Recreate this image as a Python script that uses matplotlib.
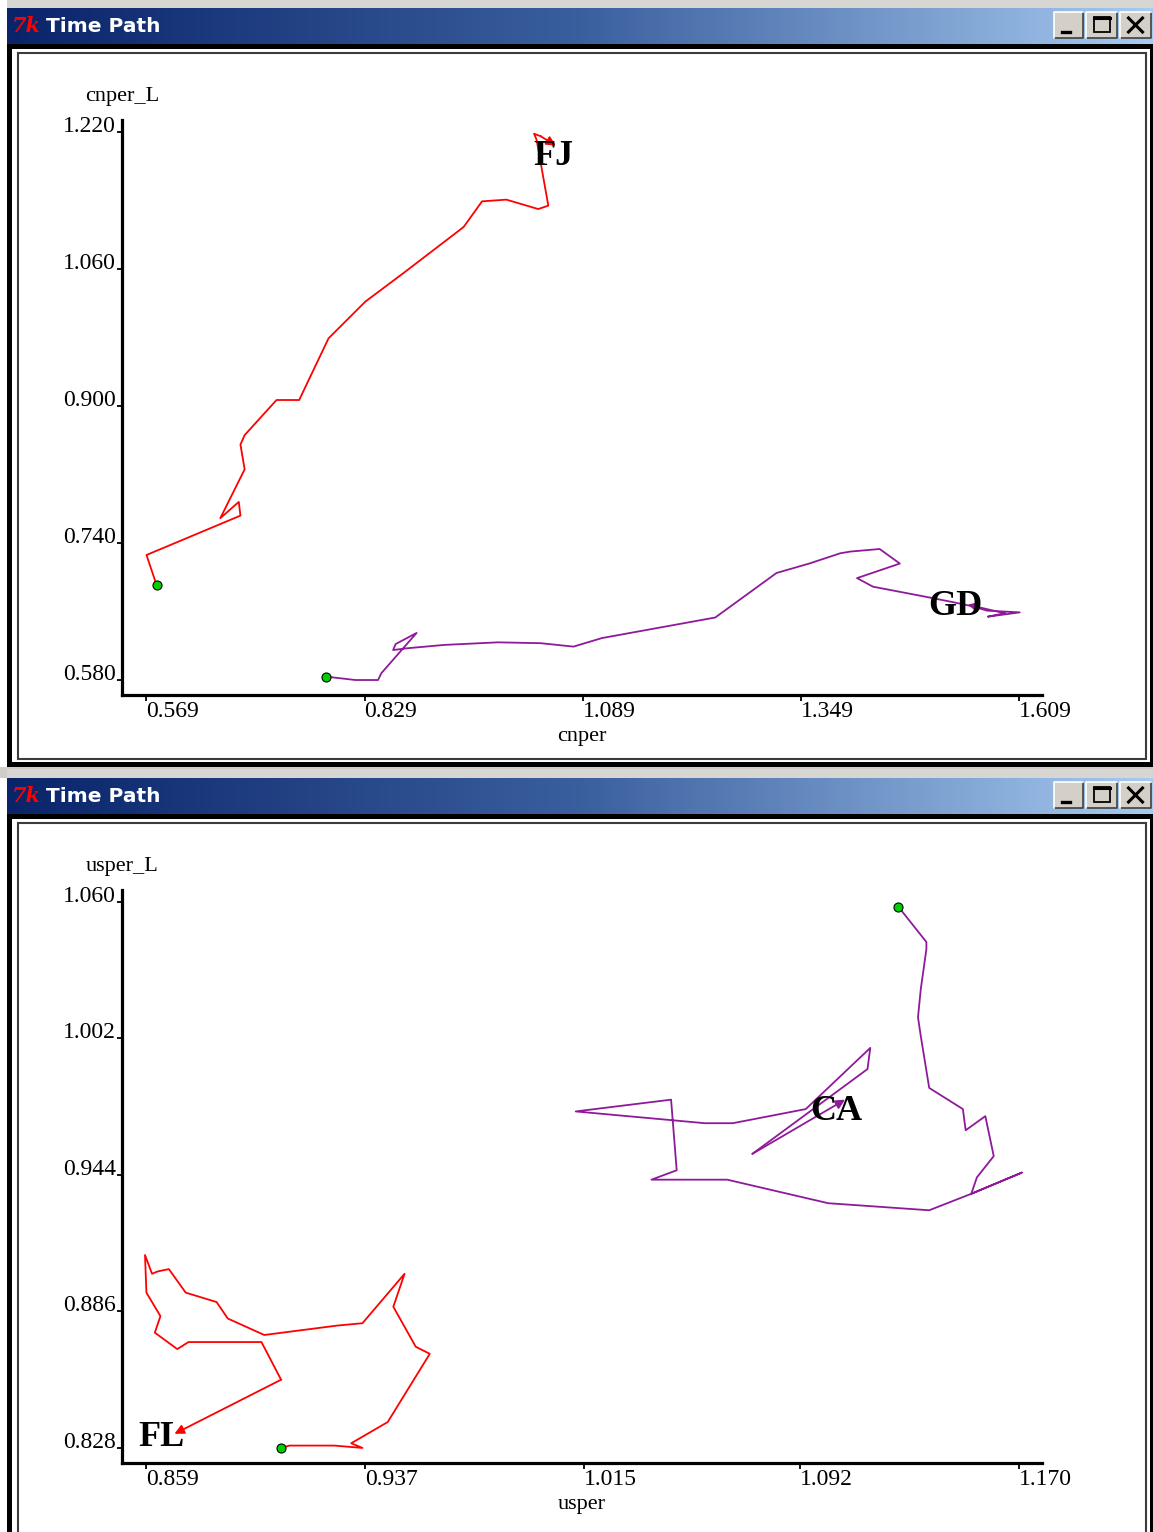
import numpy as np
import matplotlib.pyplot as plt
from matplotlib.patches import Rectangle
from matplotlib.colors import LinearSegmentedColormap

plt.rcParams['font.family'] = ['Liberation Serif', 'DejaVu Serif']

# ---- top window: cnper / cnper_L
cn_xticks = [0.569, 0.829, 1.089, 1.349, 1.609]
cn_yticks = [0.580, 0.740, 0.900, 1.060, 1.220]

fj_x = [0.581, 0.569, 0.681, 0.679, 0.657, 0.686, 0.681, 0.686, 0.724, 0.751, 0.786,
        0.830, 0.875, 0.947, 0.969, 0.998, 1.036, 1.048, 1.034, 1.031, 1.039, 1.057]
fj_y = [0.691, 0.726, 0.772, 0.788, 0.769, 0.826, 0.855, 0.866, 0.907, 0.907, 0.979,
        1.022, 1.055, 1.109, 1.139, 1.141, 1.130, 1.134, 1.211, 1.218, 1.215, 1.204]

gd_x = [0.783, 0.818, 0.845, 0.849, 0.891, 0.866, 0.863, 0.879, 0.924, 0.988, 1.039,
        1.078, 1.112, 1.247, 1.320, 1.359, 1.396, 1.408, 1.443, 1.467, 1.416, 1.435,
        1.499, 1.530, 1.554, 1.571, 1.610, 1.572, 1.592, 1.548]
gd_y = [0.584, 0.580, 0.580, 0.588, 0.635, 0.622, 0.615, 0.617, 0.621, 0.624, 0.623,
        0.619, 0.629, 0.653, 0.705, 0.716, 0.728, 0.730, 0.733, 0.716, 0.699, 0.689,
        0.677, 0.671, 0.666, 0.661, 0.659, 0.654, 0.658, 0.668]

# ---- bottom window: usper / usper_L
us_xticks = [0.859, 0.937, 1.015, 1.092, 1.170]
us_yticks = [0.828, 0.886, 0.944, 1.002, 1.060]

ca_x = [1.127, 1.137, 1.137, 1.135, 1.134, 1.135, 1.138, 1.150, 1.151, 1.158, 1.161,
        1.155, 1.153, 1.171, 1.153, 1.138, 1.102, 1.066, 1.039, 1.048, 1.046, 1.012,
        1.058, 1.068, 1.094, 1.117, 1.116, 1.075, 1.108]
ca_y = [1.058, 1.043, 1.040, 1.023, 1.011, 1.003, 0.981, 0.972, 0.963, 0.969, 0.952,
        0.943, 0.936, 0.945, 0.936, 0.929, 0.932, 0.942, 0.942, 0.946, 0.976, 0.971,
        0.966, 0.966, 0.972, 0.998, 0.989, 0.953, 0.976]

fl_x = [0.907, 0.910, 0.926, 0.936, 0.932, 0.945, 0.960, 0.955, 0.947, 0.951, 0.936,
        0.927, 0.901, 0.888, 0.884, 0.873, 0.867, 0.863, 0.861, 0.8585, 0.859, 0.864,
        0.862, 0.870, 0.874, 0.900, 0.907, 0.869]
fl_y = [0.828, 0.829, 0.829, 0.828, 0.830, 0.839, 0.868, 0.871, 0.888, 0.902, 0.881,
        0.880, 0.876, 0.883, 0.890, 0.894, 0.904, 0.903, 0.902, 0.910, 0.894, 0.884,
        0.877, 0.870, 0.873, 0.873, 0.857, 0.834]

RED = '#ff0000'
PURPLE = '#8e1a9a'

W, H = 1153, 1532
fig = plt.figure(figsize=(W / 100, H / 100), dpi=100)
fig.patch.set_facecolor('white')

# window chrome drawn in pixel coordinates
bg = fig.add_axes([0, 0, 1, 1])
bg.axis('off')
tb_cmap = LinearSegmentedColormap.from_list('tb', ['#0a246a', '#3a5f9e', '#a6caf0'])
grad = np.linspace(0, 1, 256).reshape(1, -1)


def button(x0, x1, top, kind):
    y0, y1 = top + 4, top + 30
    bg.add_patch(Rectangle((x0, y0), x1 - x0, y1 - y0, facecolor='#d4d0c8', edgecolor='none', zorder=3))
    bg.plot([x0, x1, x1], [y1, y1, y0], color='#404040', lw=1.2, zorder=4)
    bg.plot([x0, x0, x1], [y1, y0, y0], color='white', lw=1.2, zorder=4)
    cx, cy = (x0 + x1) / 2, (y0 + y1) / 2
    if kind == 'min':
        bg.plot([cx - 7, cx + 1], [cy + 7, cy + 7], color='black', lw=2.4, zorder=5)
    elif kind == 'max':
        bg.add_patch(Rectangle((cx - 8, cy - 8), 16, 15, facecolor='none', edgecolor='black', lw=1.3, zorder=5))
        bg.plot([cx - 8, cx + 8], [cy - 7, cy - 7], color='black', lw=2.2, zorder=5)
    else:
        bg.plot([cx - 7, cx + 7], [cy - 7, cy + 7], color='black', lw=2.2, zorder=5)
        bg.plot([cx - 7, cx + 7], [cy + 7, cy - 7], color='black', lw=2.2, zorder=5)


def window(top, bottom):
    bg.add_patch(Rectangle((7, top - 9), W - 7, 9, facecolor='#d8d6d2', edgecolor='none', zorder=1))
    bg.imshow(grad, extent=(7, W, top + 36, top), aspect='auto', cmap=tb_cmap, zorder=2)
    bg.add_patch(Rectangle((7, top + 36), W - 7, bottom - top - 36, facecolor='black', edgecolor='none', zorder=1))
    bg.add_patch(Rectangle((12, top + 41), W - 15, bottom - top - 46, facecolor='white', edgecolor='none', zorder=1))
    bg.add_patch(Rectangle((18, top + 45), 1128, bottom - top - 53, facecolor='white',
                           edgecolor='#3c3c3c', lw=1.5, zorder=1))
    bg.text(12, top + 18, '7k', color='red', fontsize=15, fontweight='bold', style='italic',
            family='DejaVu Serif', va='center', ha='left', zorder=5)
    bg.text(46, top + 18, 'Time Path', color='white', fontsize=14.5, fontweight='bold',
            family='DejaVu Sans', va='center', ha='left', zorder=5)
    button(1054, 1083, top, 'min')
    button(1086, 1117, top, 'max')
    button(1120, 1151, top, 'close')


window(8, 767)
bg.add_patch(Rectangle((0, 767), W, 11, facecolor='#d0cdc8', edgecolor='none', zorder=0))
window(778, 1545)
bg.set_xlim(0, W)
bg.set_ylim(H, 0)


def path_axes(rect, xlim, ylim, xticks, yticks, xlabel, ylabel):
    ax = fig.add_axes(rect)
    ax.set_facecolor('none')
    for s in ['top', 'right']:
        ax.spines[s].set_visible(False)
    for s in ['left', 'bottom']:
        ax.spines[s].set_linewidth(2.3)
    ax.set_xlim(*xlim)
    ax.set_ylim(*ylim)
    ax.set_xticks(xticks)
    ax.set_xticklabels(['%.3f' % v for v in xticks])
    ax.set_yticks(yticks)
    ax.set_yticklabels(['%.3f' % v for v in yticks])
    ax.tick_params(axis='x', direction='out', length=4.5, width=1.3, pad=0, labelsize=17)
    ax.tick_params(axis='y', direction='out', length=3.5, width=1.3, pad=1, labelsize=17)
    for t in ax.get_xticklabels():
        t.set_ha('left')
    for t in ax.get_yticklabels():
        t.set_va('baseline')
    ax.annotate(ylabel, xy=(0, 1), xycoords='axes fraction', xytext=(0, 17),
                textcoords='offset points', ha='center', va='center', fontsize=16)
    ax.annotate(xlabel, xy=(0.5, 0), xycoords='axes fraction', xytext=(0, -30),
                textcoords='offset points', ha='center', va='center', fontsize=16)
    return ax


def time_path(ax, xs, ys, color, name, offset):
    ax.plot(xs[:-1], ys[:-1], color=color, lw=1.3, zorder=3)
    ax.annotate('', xy=(xs[-1], ys[-1]), xytext=(xs[-2], ys[-2]),
                arrowprops=dict(arrowstyle='-|>', color=color, lw=1.3, mutation_scale=14,
                                shrinkA=0, shrinkB=0), zorder=3)
    ax.plot(xs[0], ys[0], 'o', mfc='#00d000', mec='black', ms=6.5, mew=0.8, zorder=5)
    ax.annotate(name, xy=(xs[-1], ys[-1]), xytext=offset, textcoords='offset points',
                ha='center', va='center', fontsize=26, fontweight='bold', color='black', zorder=6)


ax1 = path_axes([122 / W, 1 - 695 / H, 920 / W, 575 / H], (0.5398, 1.6365), (0.5625, 1.234),
                cn_xticks, cn_yticks, 'cnper', 'cnper_L')
time_path(ax1, fj_x, fj_y, RED, 'FJ', (-2, -8))
time_path(ax1, gd_x, gd_y, PURPLE, 'GD', (-9, -1.5))

ax2 = path_axes([122 / W, 1 - 1463 / H, 920 / W, 573 / H], (0.8503, 1.1782), (0.8216, 1.0651),
                us_xticks, us_yticks, 'usper', 'usper_L')
time_path(ax2, ca_x, ca_y, PURPLE, 'CA', (-6.5, -8.5))
time_path(ax2, fl_x, fl_y, RED, 'FL', (-9.5, -3))

fig.savefig('out.png', dpi=100)
